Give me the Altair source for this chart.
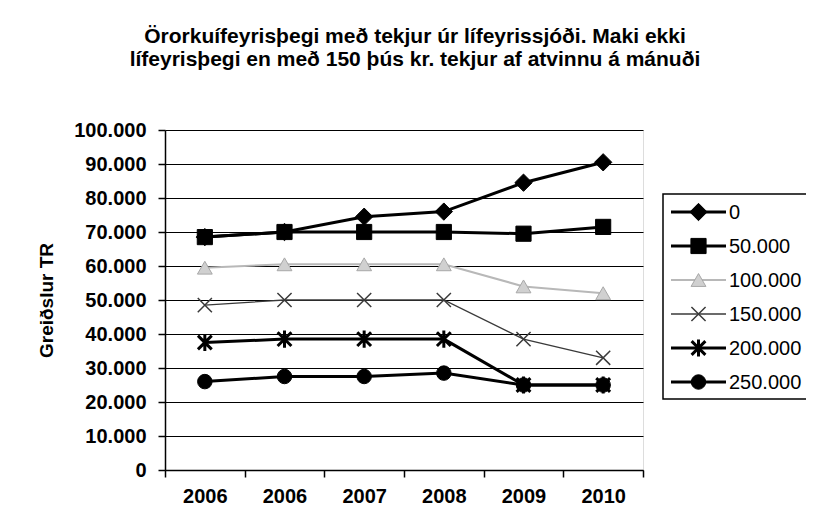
import altair as alt
import pandas as pd

# ---- data ----
years = ["2006", "2006", "2007", "2008", "2009", "2010"]
series = ["0", "50.000", "100.000", "150.000", "200.000", "250.000"]
v0 = [68500, 70000, 74500, 76000, 84500, 90500]
v50 = [68500, 70000, 70000, 70000, 69500, 71500]
v100 = [59500, 60500, 60500, 60500, 54000, 52000]
v150 = [48500, 50000, 50000, 50000, 38500, 33000]
v200 = [37500, 38500, 38500, 38500, 25000, 25000]
v250 = [26000, 27500, 27500, 28500, 25000, 25000]
all_values = [v0, v50, v100, v150, v200, v250]

title_lines = [
    "Örorkuífeyrisþegi með tekjur úr lífeyrissjóði. Maki ekki",
    "lífeyrisþegi en með 150 þús kr. tekjur af atvinnu á mánuði",
]
y_title = "Greiðslur TR"

# ---- styles ----
FONT = "Liberation Sans"
line_colors = ["#000000", "#000000", "#b8b8b8", "#3a3a3a", "#000000", "#000000"]
line_widths = [3, 3, 2, 1.3, 3, 3]
X_PATH = "M-1,-1L1,1M-1,1L1,-1"
AST_PATH = "M-1,-1L1,1M-1,1L1,-1M0,-1.25L0,1.25"
marker_shapes = ["diamond", "square", "triangle-up", X_PATH, AST_PATH, "circle"]
marker_sizes = [300, 230, 220, 200, 190, 210]
marker_fill = ["#000000", "#000000", "#d0d0d0", "#3a3a3a", "#000000", "#000000"]
marker_stroke = ["#000000", "#000000", "#a8a8a8", "#3a3a3a", "#000000", "#000000"]
marker_sw = [1, 1, 1, 1.5, 3, 1]

rows = []
for s, vals in zip(series, all_values):
    for i, v in enumerate(vals):
        rows.append({"pos": i, "series": s, "value": v})
df = pd.DataFrame(rows)
leg_df = pd.DataFrame({"series": series})

W, H = 478, 340
label_expr = "[" + ",".join("'%s'" % y for y in years) + "][datum.value]"

x_enc = alt.X(
    "pos:O",
    bandPosition=0.5,
    scale=alt.Scale(type="band", paddingInner=0, paddingOuter=0),
    axis=alt.Axis(
        title=None,
        labelExpr=label_expr,
        labelAngle=0,
        tickBand="extent",
        tickSize=7,
        tickColor="black",
        tickWidth=1.5,
        domainColor="black",
        domainWidth=1.5,
        labelFont=FONT,
        labelFontSize=20,
        labelFontWeight="bold",
        labelColor="black",
        labelPadding=9,
        grid=False,
    ),
)
y_enc = alt.Y(
    "value:Q",
    scale=alt.Scale(domain=[0, 100000], nice=False),
    axis=alt.Axis(
        values=list(range(0, 100001, 10000)),
        labelExpr="replace(format(datum.value, ',d'), ',', '.')",
        labelOverlap=False,
        title=y_title,
        titleFont=FONT,
        titleFontSize=19,
        titleFontWeight="bold",
        titleColor="black",
        titlePadding=17,
        labelFont=FONT,
        labelFontSize=20,
        labelFontWeight="bold",
        labelColor="black",
        labelPadding=12,
        tickSize=7,
        tickColor="black",
        tickWidth=1.5,
        domainColor="black",
        domainWidth=1.5,
        grid=True,
        gridColor="black",
        gridWidth=1,
    ),
)

stroke_scale = alt.Scale(domain=series, range=line_colors)
sw_scale = alt.Scale(type="ordinal", domain=series, range=line_widths)

lines = alt.Chart(df).mark_line().encode(
    x=x_enc,
    y=y_enc,
    stroke=alt.Stroke("series:N", scale=stroke_scale, legend=None),
    strokeWidth=alt.StrokeWidth("series:N", scale=sw_scale, legend=None),
    detail="series:N",
)

point_layers = []
for i, s in enumerate(series):
    point_layers.append(
        alt.Chart(df)
        .transform_filter(alt.datum.series == s)
        .mark_point(
            shape=marker_shapes[i],
            filled=True,
            size=marker_sizes[i],
            fill=marker_fill[i],
            stroke=marker_stroke[i],
            strokeWidth=marker_sw[i],
            opacity=1,
        )
        .encode(x=x_enc, y=y_enc)
    )

main = alt.layer(lines, *point_layers)

# ---- legend drawn from the series list through a point scale ----
LX0, LX1 = 506, 561
leg_y = alt.Y(
    "series:N",
    scale=alt.Scale(type="point", domain=series, range=[82, 252], padding=0),
    axis=None,
)
leg_box = alt.Chart(pd.DataFrame({"a": [0]})).mark_rect(
    fill="white", stroke="black", strokeWidth=1.5
).encode(x=alt.value(498), x2=alt.value(700), y=alt.value(64), y2=alt.value(269))
leg_rules = alt.Chart(leg_df).mark_rule().encode(
    x=alt.value(LX0),
    x2=alt.value(LX1),
    y=leg_y,
    stroke=alt.Stroke("series:N", scale=stroke_scale, legend=None),
    strokeWidth=alt.StrokeWidth("series:N", scale=sw_scale, legend=None),
)
leg_points = []
for i, s in enumerate(series):
    leg_points.append(
        alt.Chart(leg_df)
        .transform_filter(alt.datum.series == s)
        .mark_point(
            shape=marker_shapes[i],
            filled=True,
            size=marker_sizes[i],
            fill=marker_fill[i],
            stroke=marker_stroke[i],
            strokeWidth=marker_sw[i],
            opacity=1,
        )
        .encode(x=alt.value((LX0 + LX1) / 2), y=leg_y)
    )
leg_text = alt.Chart(leg_df).mark_text(
    align="left", baseline="middle", font=FONT, fontSize=20, color="black", dy=1
).encode(x=alt.value(LX1 + 3), y=leg_y, text="series:N")
legend = alt.layer(leg_box, leg_rules, *leg_points, leg_text)

chart = (
    alt.layer(main, legend)
    .resolve_scale(y="independent")
    .properties(
        width=W,
        height=H,
        title=alt.TitleParams(
            text=title_lines,
            font=FONT,
            fontSize=21,
            fontWeight="bold",
            color="black",
            anchor="middle",
            frame="group",
            baseline="bottom",
            dx=11,
            lineHeight=23,
            offset=29,
        ),
        autosize=alt.AutoSizeParams(type="none"),
        padding={"left": 157, "top": 122, "right": 163, "bottom": 54},
    )
    .configure_view(stroke="black", strokeWidth=1.5)
    .configure(background="white")
)

chart.save("out.html", embed_options={"renderer": "svg", "actions": False})
